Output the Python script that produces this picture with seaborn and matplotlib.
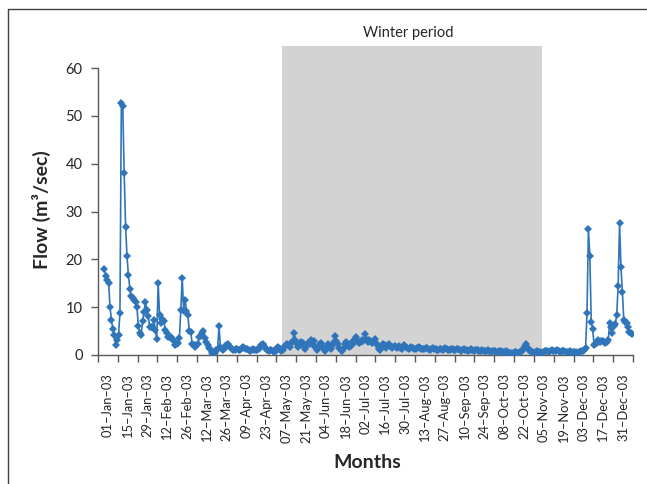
import numpy as np
import pandas as pd
import matplotlib
matplotlib.use("Agg")
import matplotlib.pyplot as plt
import seaborn as sns
from matplotlib.lines import Line2D
import matplotlib.transforms as mtransforms

# ---------------- data (daily flow, m3/sec) ----------------
start_date = "2003-01-05"
jan = [17.9, 16.5, 15.7, 15.0, 10.0, 7.3, 5.4, 4.2, 2.1, 3.1, 4.2, 8.8, 52.6, 52.0,
       38.0, 26.8, 20.6, 16.7, 13.9, 12.3, 11.9, 11.4, 11.0, 10.1, 6.1, 4.5, 4.2]
feb = [7.2, 9.0, 11.1, 9.4, 8.2, 5.9, 5.8, 5.9, 7.3, 5.2, 3.3, 15.1, 8.3, 6.6,
       7.5, 7.2, 5.2, 4.5, 3.8, 3.8, 3.7, 3.4, 3.0, 2.1, 2.4, 2.6, 3.5, 9.4]
mar = [16.2, 9.3, 11.6, 9.3, 8.4, 5.0, 4.9, 2.4, 2.0, 1.7, 2.0, 2.4, 3.8, 4.0, 4.5,
       5.1, 3.5, 2.8, 2.1, 1.5, 1.0, 0.5, 0.2, 0.5, 1.0, 1.2, 6.1, 1.7, 1.3, 1.0, 1.5]
apr = [2.1, 2.2, 1.9, 1.6, 1.2, 1.0, 1.1, 1.3, 1.2, 1.0, 1.1, 1.4, 1.7, 1.5, 1.3,
       1.2, 1.0, 0.9, 1.0, 1.2, 1.1, 1.0, 1.0, 1.2, 1.6, 2.1, 2.4, 1.8, 1.3, 1.0]
may = [0.9, 1.0, 1.1, 0.8, 0.7, 0.9, 1.4, 1.7, 1.2, 0.8, 1.0, 1.6, 2.0, 2.3, 2.0,
       1.7, 2.5, 3.0, 4.5, 3.2, 2.4, 1.6, 2.0, 2.8, 2.5, 1.8, 1.2, 2.0, 2.6, 2.2, 3.1]
jun = [2.5, 2.9, 1.7, 1.0, 1.4, 2.2, 2.6, 1.8, 1.2, 0.9, 1.5, 2.3, 1.9, 1.3, 1.8,
       2.7, 4.0, 3.0, 2.2, 1.5, 1.0, 0.8, 1.4, 2.2, 2.8, 2.4, 1.6, 1.9, 2.6, 3.0]
jul = [2.7, 3.8, 3.0, 2.5, 2.8, 3.2, 2.9, 4.4, 3.4, 2.7, 3.1, 3.0, 2.6, 2.8, 3.3,
       2.5, 1.8, 1.2, 1.0, 1.6, 2.3, 2.0, 1.4, 1.9, 2.2, 1.8, 1.5, 1.6, 1.9, 1.7, 1.5]
aug = [1.8, 1.4, 1.3, 1.6, 2.0, 1.7, 1.4, 1.3, 1.5, 1.6, 1.4, 1.3, 1.2, 1.4, 1.7,
       1.5, 1.3, 1.2, 1.3, 1.5, 1.4, 1.2, 1.1, 1.2, 1.4, 1.3, 1.2, 1.0, 1.1, 1.3, 1.2]
sep = [1.1, 1.3, 1.4, 1.2, 1.0, 1.1, 1.3, 1.2, 1.1, 1.0, 1.2, 1.3, 1.1, 0.9, 1.0,
       1.2, 1.1, 1.0, 0.9, 1.1, 1.2, 1.0, 0.9, 1.0, 1.1, 1.0, 0.8, 0.9, 1.0, 0.9]
oct_ = [0.8, 0.9, 1.0, 0.8, 0.7, 0.8, 0.9, 0.8, 0.7, 0.6, 0.8, 0.9, 0.7, 0.6, 0.7,
        0.8, 0.6, 0.5, 0.4, 0.3, 0.5, 0.7, 0.6, 0.5, 0.4, 0.6, 0.8, 1.2, 1.8, 2.3, 1.5]
nov = [1.0, 0.8, 0.6, 0.7, 0.5, 0.6, 0.8, 0.7, 0.6, 0.5, 0.7, 0.8, 0.9, 0.8, 0.7,
       0.9, 1.0, 0.9, 0.8, 0.9, 1.0, 0.8, 0.7, 0.8, 0.9, 0.8, 0.7, 0.6, 0.7, 0.8]
dec = [0.7, 0.6, 0.7, 0.6, 0.5, 0.6, 0.7, 0.8, 0.9, 1.0, 1.5, 8.7, 26.3, 20.6, 7.0,
       5.4, 2.1, 2.4, 2.6, 3.1, 2.8, 3.0, 2.9, 2.7, 2.6, 2.8, 3.2, 6.6, 5.9, 4.7, 6.0]
jan04 = [6.5, 8.4, 14.4, 27.5, 18.3, 13.2, 7.3, 7.0, 6.6, 5.9, 4.9, 4.6, 4.4]

tick_labels = ["01–Jan–03", "15–Jan–03", "29–Jan–03", "12–Feb–03", "26–Feb–03",
               "12–Mar–03", "26–Mar–03", "09–Apr–03", "23–Apr–03", "07–May–03",
               "21–May–03", "04–Jun–03", "18–Jun–03", "02–Jul–03", "16–Jul–03",
               "30–Jul–03", "13–Aug–03", "27–Aug–03", "10–Sep–03", "24–Sep–03",
               "08–Oct–03", "22–Oct–03", "05–Nov–03", "19–Nov–03", "03–Dec–03",
               "17–Dec–03", "31–Dec–03"]
y_ticks = [0, 10, 20, 30, 40, 50, 60]
winter_start, winter_end = "2003-05-11", "2003-11-10"

flow = jan + feb + mar + apr + may + jun + jul + aug + sep + oct_ + nov + dec + jan04
dates = pd.date_range(start_date, periods=len(flow), freq="D")
origin = pd.Timestamp("2003-01-01")
df = pd.DataFrame({"day": (dates - origin).days, "flow": flow})

# ---------------- style ----------------
sns.set_theme(style="white")
plt.rcParams["font.family"] = ["Lato", "DejaVu Sans"]
text_color = "#262626"
axis_color = "#595959"
line_color = "#3075BA"

fig = plt.figure(figsize=(6.47, 4.84), dpi=100)
ax = fig.add_axes([98 / 647, 1 - 355 / 484, 535 / 647, 287 / 484])

n_blocks = len(tick_labels)
x_lo, x_hi = -0.5, n_blocks * 14 - 0.5

# winter shading
ws = (pd.Timestamp(winter_start) - origin).days - 0.5
we = (pd.Timestamp(winter_end) - origin).days + 0.5
ax.axvspan(ws, we, ymin=0, ymax=64.6 / 60, color="#D3D3D3", lw=0, zorder=0, clip_on=False)
trans = mtransforms.blended_transform_factory(ax.transData, ax.transAxes)
ax.text((ws + we) / 2 - 3, 1.122, "Winter period", transform=trans, ha="center",
        va="center", fontsize=10.5, color=text_color)

sns.lineplot(data=df, x="day", y="flow", ax=ax, color=line_color, linewidth=1.2,
             marker="D", markersize=3.6, markeredgewidth=0, zorder=3)

ax.set_xlim(x_lo, x_hi)
ax.set_ylim(0, 60)
ax.set_yticks(y_ticks)
ax.set_yticklabels([str(v) for v in y_ticks])

ax.set_xticks([14 * k - 0.5 for k in range(n_blocks + 1)])
ax.set_xticklabels([])
ax.set_xticks([14 * k + 6.5 for k in range(n_blocks)], minor=True)
ax.set_xticklabels(tick_labels, minor=True, rotation=90, fontsize=9.3, color=text_color)
ax.tick_params(axis="x", which="major", direction="out", length=5, width=1,
               color=axis_color, bottom=True)
ax.tick_params(axis="x", which="minor", length=0, pad=13, bottom=True)
ax.tick_params(axis="y", direction="out", length=5, width=1, color=axis_color,
               labelsize=10.5, labelcolor=text_color, pad=6, left=True)

for side in ["top", "right"]:
    ax.spines[side].set_visible(False)
for side in ["left", "bottom"]:
    ax.spines[side].set_color(axis_color)
    ax.spines[side].set_linewidth(1)

ax.set_xlabel("Months", fontsize=14, fontweight="bold", color=text_color)
ax.xaxis.set_label_coords(0.503, -0.345)
ax.xaxis.label.set_va("top")
ax.set_ylabel("Flow (m³/sec)", fontsize=14, fontweight="bold", color=text_color)
ax.yaxis.set_label_coords(-0.105, 0.505)
ax.yaxis.label.set_va("center")

# figure frame (left and top edges visible)
fig.add_artist(Line2D([8 / 647, 8 / 647], [0, 1 - 9 / 484], color="#404040", lw=1,
                      transform=fig.transFigure))
fig.add_artist(Line2D([8 / 647, 1], [1 - 9 / 484, 1 - 9 / 484], color="#404040", lw=1,
                      transform=fig.transFigure))

fig.savefig("out.png", dpi=100)
